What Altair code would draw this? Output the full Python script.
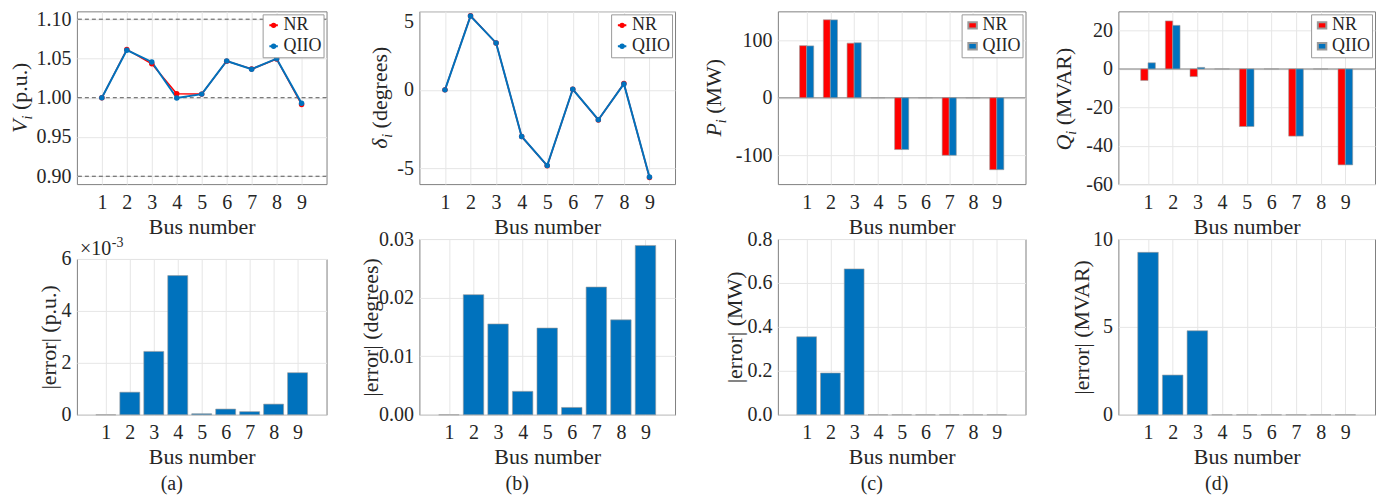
import altair as alt
import pandas as pd

FONT = "Liberation Serif"
RED = "#FF0000"
BLUE = "#0072BD"
TXT = "#262626"
GRID = "#e6e6e6"
BOX = "#808080"

# ---------------- data ----------------
buses = [1, 2, 3, 4, 5, 6, 7, 8, 9]
series_names = ["NR", "QIIO"]

v_nr = [1.0000, 1.0615, 1.0432, 1.0051, 1.0046, 1.0466, 1.0365, 1.0493, 0.9915]
v_qiio = [1.0000, 1.0606, 1.0456, 0.9997, 1.0046, 1.0468, 1.0364, 1.0497, 0.9931]
d_nr = [0.00, 4.72, 2.98, -2.97, -4.83, 0.04, -1.92, 0.40, -5.58]
d_qiio = [0.00, 4.70, 2.99, -2.97, -4.82, 0.04, -1.90, 0.38, -5.55]
p_nr = [90.4, 135.4, 94.8, 0, -90, 0, -100, 0, -125]
p_qiio = [90.0, 135.2, 95.5, 0, -90, 0, -100, 0, -125]
q_nr = [-6.0, 25.0, -4.0, 0, -30, 0, -35, 0, -50]
q_qiio = [3.2, 22.7, 0.8, 0, -30, 0, -35, 0, -50]

err_v = [0.0, 0.87e-3, 2.44e-3, 5.36e-3, 0.04e-3, 0.22e-3, 0.12e-3, 0.41e-3, 1.62e-3]
err_d = [0.0, 0.0205, 0.0155, 0.0040, 0.0148, 0.00125, 0.0218, 0.0162, 0.0289]
err_p = [0.355, 0.19, 0.664, 0, 0, 0, 0, 0, 0]
err_q = [9.24, 2.26, 4.78, 0, 0, 0, 0, 0, 0]

v_ref_levels = [0.90, 1.00, 1.10]

y_symbols = ["V", "\u03b4", "P", "Q"]
y_symbol_em = [0.611, 0.50, 0.611, 0.722]
y_units = ["(p.u.)", "(degrees)", "(MW)", "(MVAR)"]
y_units_em = [2.166, 3.72, 2.499, 3.666]
err_titles = ["|error| (p.u.)", "|error| (degrees)", "|error| (MW)", "|error| (MVAR)"]
panel_tags = ["(a)", "(b)", "(c)", "(d)"]
exp_base = "\u00d710"
exp_power = "-3"

# ---------------- layout ----------------
W = [250, 256, 248, 257]
H_TOP = 173
H_BOT = [156, 176, 176, 176]
GAP = [75, 55, 55, 55]
TOP_TITLE_X = [-50, -32, -57, -47]
BOT_TITLE_X = [-21, -42, -36, -30]

color_scale = alt.Scale(domain=series_names, range=[RED, BLUE])
width_scale = alt.Scale(domain=series_names, range=[1.5, 2])
LINE_SYMBOL = "M-1,0H1M-0.4,0A0.4,0.4,0,1,0,0.4,0A0.4,0.4,0,1,0,-0.4,0Z"
BAR_SYMBOL = "M-1,-0.75H1V0.75H-1Z"


def long_df(nr, qiio):
    rows = []
    for b, a, c in zip(buses, nr, qiio):
        rows.append({"bus": b, "series": "NR", "value": a})
        rows.append({"bus": b, "series": "QIIO", "value": c})
    return pd.DataFrame(rows)


def legend(sym):
    return alt.Legend(title=None, orient="top-right", offset=3, strokeColor="#9a9a9a",
                      fillColor="white", padding=2, labelFont=FONT, labelFontSize=18,
                      labelColor=TXT, symbolType=sym, symbolSize=72, symbolStrokeWidth=2,
                      labelOffset=1, rowPadding=3, labelLimit=200)


def x_enc():
    return alt.X("bus:Q", scale=alt.Scale(domain=[0, 10], nice=False, zero=False),
                 axis=alt.Axis(values=buses, format="d", title="Bus number",
                               labelPadding=8, titlePadding=4))


def y_axis(values, fmt=None, expr=None, flush=False, title=None, title_x=None):
    kw = dict(values=values, labelPadding=6, labelFlush=flush)
    if expr:
        kw["labelExpr"] = expr
    else:
        kw["format"] = fmt
    if title:
        kw.update(title=title, titleX=title_x, titleAngle=270,
                  titleBaseline="alphabetic", titleAlign="center")
    else:
        kw["title"] = None
    return alt.Axis(**kw)


def title_marks(i, yc):
    fs, sfs = 22, 14
    main_w = y_symbol_em[i] * fs
    sub_w = 0.278 * sfs
    space = 0.25 * fs
    rest_w = y_units_em[i] * fs
    s = -(main_w + sub_w + space + rest_w) / 2
    pieces = [(y_symbols[i], "italic", fs, s, 0),
              ("i", "italic", sfs, s + main_w, 5),
              (y_units[i], "normal", fs, s + main_w + sub_w + space, 0)]
    out = []
    for t, style, f, dx, dy in pieces:
        out.append(
            alt.Chart(pd.DataFrame({"t": [t]}))
            .mark_text(angle=270, align="left", baseline="alphabetic", font=FONT,
                       fontSize=f, fontStyle=style, color=TXT, dx=dx, dy=dy)
            .encode(text="t:N", x=alt.value(TOP_TITLE_X[i]), y=alt.value(yc))
        )
    return out


def tag_mark(i, w, h):
    return (alt.Chart(pd.DataFrame({"t": [panel_tags[i]]}))
            .mark_text(align="center", baseline="alphabetic", font=FONT, fontSize=20, color=TXT)
            .encode(text="t:N", x=alt.value(w / 2 - 30), y=alt.value(h + 75)))


# ---------------- top row ----------------
def line_panel(i, nr, qiio, domain, values, fmt=None, expr=None, flush=False, refs=None):
    df = long_df(nr, qiio)
    y = alt.Y("value:Q", scale=alt.Scale(domain=domain, nice=False, zero=False),
              axis=y_axis(values, fmt=fmt, expr=expr, flush=flush))
    col = alt.Color("series:N", scale=color_scale, legend=legend(LINE_SYMBOL))
    layers = []
    if refs is not None:
        layers.append(alt.Chart(pd.DataFrame({"value": refs}))
                      .mark_rule(strokeDash=[4, 3], color="#555555", strokeWidth=1)
                      .encode(y=y))
    layers.append(alt.Chart(df).mark_line().encode(
        x=x_enc(), y=y, color=col,
        strokeWidth=alt.StrokeWidth("series:N", scale=width_scale, legend=None)))
    layers.append(alt.Chart(df).mark_point(filled=True, size=30, opacity=1)
                  .encode(x=x_enc(), y=y, color=col))
    layers += title_marks(i, H_TOP / 2)
    return alt.layer(*layers).properties(width=W[i], height=H_TOP)


def bar_panel(i, nr, qiio, domain, values):
    df = long_df(nr, qiio)
    y = alt.Y("value:Q", scale=alt.Scale(domain=domain, nice=False, zero=False),
              axis=y_axis(values, expr="'' + datum.value"), stack=None)
    col = alt.Color("series:N", scale=color_scale, legend=legend(BAR_SYMBOL))
    bw = 0.286 * W[i] / 10
    layers = [alt.Chart(pd.DataFrame({"value": [0]})).mark_rule(color="#a6a6a6", strokeWidth=1.5)
              .encode(y=y)]
    for name, off in zip(series_names, [-bw / 2, bw / 2]):
        layers.append(
            alt.Chart(df).transform_filter(alt.datum.series == name)
            .mark_bar(size=bw, xOffset=off, orient="vertical", stroke="#9a9a9a", strokeWidth=0.6)
            .encode(x=x_enc(), y=y, color=col)
        )
    layers += title_marks(i, H_TOP / 2)
    return alt.layer(*layers).properties(width=W[i], height=H_TOP)


top = [
    line_panel(0, v_nr, v_qiio, [0.89, 1.11], [0.9, 0.95, 1.0, 1.05, 1.1], fmt=".2f",
               refs=v_ref_levels),
    line_panel(1, d_nr, d_qiio, [-6, 5], [-5, 0, 5], expr="'' + datum.value", flush=True),
    bar_panel(2, p_nr, p_qiio, [-150, 150], [-100, 0, 100]),
    bar_panel(3, q_nr, q_qiio, [-60, 30], [-60, -40, -20, 0, 20]),
]

# ---------------- bottom row ----------------
def err_panel(i, errs, domain, values, fmt=None, expr=None):
    df = pd.DataFrame({"bus": buses, "value": errs})
    y = alt.Y("value:Q", scale=alt.Scale(domain=domain, nice=False, zero=False),
              axis=y_axis(values, fmt=fmt, expr=expr, title=err_titles[i],
                          title_x=BOT_TITLE_X[i]))
    bw = 0.8 * W[i] / 10
    layers = [alt.Chart(df).mark_bar(size=bw, color=BLUE, orient="vertical",
                                     stroke="#9a9a9a", strokeWidth=0.6)
              .encode(x=x_enc(), y=y),
              tag_mark(i, W[i], H_BOT[i])]
    if i == 0:
        layers.append(alt.Chart(pd.DataFrame({"t": [exp_base]}))
                      .mark_text(align="left", baseline="alphabetic", font=FONT, fontSize=20, color=TXT)
                      .encode(text="t:N", x=alt.value(3), y=alt.value(-4)))
        layers.append(alt.Chart(pd.DataFrame({"t": [exp_power]}))
                      .mark_text(align="left", baseline="alphabetic", font=FONT, fontSize=14, color=TXT)
                      .encode(text="t:N", x=alt.value(35), y=alt.value(-12)))
    return alt.layer(*layers).properties(width=W[i], height=H_BOT[i])


bottom = [
    err_panel(0, err_v, [0, 0.006], [0, 0.002, 0.004, 0.006], expr="'' + round(datum.value * 1000)"),
    err_panel(1, err_d, [0, 0.03], [0, 0.01, 0.02, 0.03], fmt=".2f"),
    err_panel(2, err_p, [0, 0.8], [0, 0.2, 0.4, 0.6, 0.8], fmt=".1f"),
    err_panel(3, err_q, [0, 10], [0, 5, 10], fmt="d"),
]


def indep(c):
    return (c.resolve_scale(color="independent", x="independent", y="independent")
            .resolve_legend(color="independent"))


cols = [indep(alt.vconcat(top[i], bottom[i], spacing=GAP[i], bounds="flush")) for i in range(4)]

left_pair = indep(alt.hconcat(cols[0], cols[1], spacing=31))
right_pair = indep(alt.hconcat(cols[2], cols[3], spacing=25))

chart = (
    indep(alt.hconcat(left_pair, right_pair, spacing=26))
    .properties(padding=0)
    .configure(font=FONT)
    .configure_view(stroke=BOX, strokeWidth=1)
    .configure_axis(labelFont=FONT, labelFontSize=20, labelColor=TXT, titleFont=FONT,
                    titleFontSize=22, titleColor=TXT, titleFontWeight="normal",
                    gridColor=GRID, gridWidth=1, domain=False, ticks=False, tickSize=0)
)

chart.save("out.html", embed_options={"renderer": "svg", "actions": False})
